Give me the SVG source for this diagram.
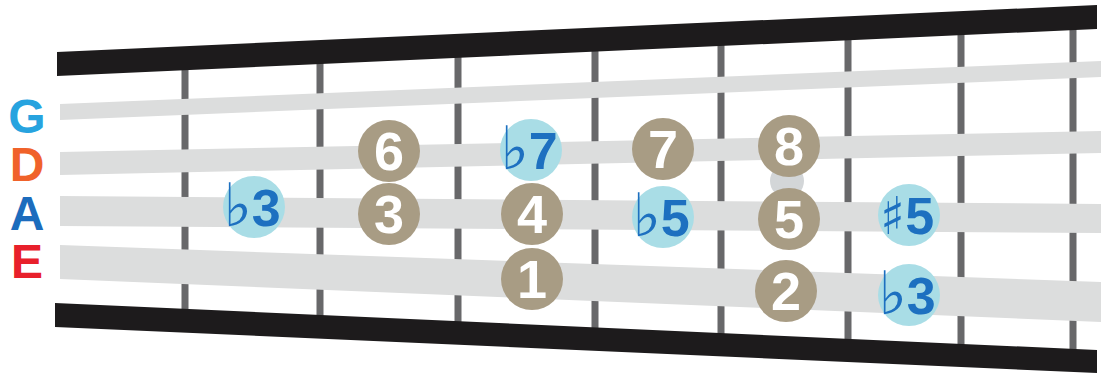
<svg xmlns="http://www.w3.org/2000/svg" width="1101" height="373" viewBox="0 0 1101 373">
<style>
.bar{fill:#1d1b1c}
.fret{stroke:#68686a;stroke-width:7}
.str{fill:#dcdddd}
.tan{fill:#a89c84}
.blu{fill:#a9dde6}
.wd{font-family:"Liberation Sans",Arial,sans-serif;font-weight:bold;font-size:54px;fill:#ffffff;text-anchor:middle}
.bd{font-family:"Liberation Sans",Arial,sans-serif;font-weight:bold;font-size:52px;fill:#1d70c0;text-anchor:middle}
.acc{font-family:"DejaVu Sans",sans-serif;font-weight:normal;font-size:60px}
.sh{font-family:"DejaVu Sans",sans-serif;font-weight:normal;font-size:52px}
.lt{font-family:"Liberation Sans",Arial,sans-serif;font-weight:bold;font-size:48px;text-anchor:middle}
</style>
<rect width="1101" height="373" fill="#ffffff"/>
<g id="frets">
<line class="fret" x1="185" y1="66" x2="185" y2="313"/>
<line class="fret" x1="320" y1="60" x2="320" y2="319"/>
<line class="fret" x1="458" y1="54" x2="458" y2="325"/>
<line class="fret" x1="595" y1="48" x2="595" y2="331"/>
<line class="fret" x1="721" y1="42" x2="721" y2="337"/>
<line class="fret" x1="848" y1="36" x2="848" y2="343"/>
<line class="fret" x1="961" y1="31" x2="961" y2="348"/>
<line class="fret" x1="1073" y1="26" x2="1073" y2="353"/>
</g>
<g id="strings">
<polygon class="str" points="60,104 1101,61 1101,77 60,120"/>
<polygon class="str" points="60,152 1101,131 1101,153 60,175"/>
<polygon class="str" points="60,196 1101,204 1101,233 60,226"/>
<polygon class="str" points="60,245 1101,282 1101,322 60,279"/>
</g>
<g id="nut-bars">
<polygon class="bar" points="57,52 1097,5 1097,29 57,76"/>
<polygon class="bar" points="55,303 1097,350 1097,373 55,327"/>
</g>
<g id="string-names">
<text class="lt" x="27" y="133" fill="#27a3df">G</text>
<text class="lt" x="27" y="181" fill="#f0622a">D</text>
<text class="lt" x="27" y="230" fill="#1c6cbd">A</text>
<text class="lt" x="27" y="278" fill="#e8202b">E</text>
</g>
<circle cx="787" cy="181" r="17" fill="#d3d6d8"/>
<g id="n-b3-a"><circle class="blu" cx="254" cy="207" r="31"/><text class="bd" x="252" y="226"><tspan class="acc">♭</tspan>3</text></g>
<g id="n-6"><circle class="tan" cx="389" cy="151" r="31"/><text class="wd" x="389" y="170">6</text></g>
<g id="n-3"><circle class="tan" cx="389" cy="214" r="31"/><text class="wd" x="389" y="233">3</text></g>
<g id="n-b7"><circle class="blu" cx="531" cy="150" r="31"/><text class="bd" x="529" y="169"><tspan class="acc">♭</tspan>7</text></g>
<g id="n-4"><circle class="tan" cx="532" cy="214" r="31"/><text class="wd" x="532" y="233">4</text></g>
<g id="n-1"><circle class="tan" cx="532" cy="279" r="31"/><text class="wd" x="532" y="298">1</text></g>
<g id="n-7"><circle class="tan" cx="663" cy="149" r="31"/><text class="wd" x="663" y="168">7</text></g>
<g id="n-b5"><circle class="blu" cx="663" cy="217" r="31"/><text class="bd" x="661" y="236"><tspan class="acc">♭</tspan>5</text></g>
<g id="n-8"><circle class="tan" cx="789" cy="146" r="31"/><text class="wd" x="789" y="165">8</text></g>
<g id="n-5"><circle class="tan" cx="789" cy="219" r="31"/><text class="wd" x="789" y="238">5</text></g>
<g id="n-2"><circle class="tan" cx="786" cy="291" r="31"/><text class="wd" x="786" y="310">2</text></g>
<g id="n-s5"><circle class="blu" cx="909" cy="215" r="31"/><text class="bd" x="907" y="234"><tspan class="sh">♯</tspan>5</text></g>
<g id="n-b3-e"><circle class="blu" cx="909" cy="295" r="31"/><text class="bd" x="907" y="314"><tspan class="acc">♭</tspan>3</text></g>
</svg>
